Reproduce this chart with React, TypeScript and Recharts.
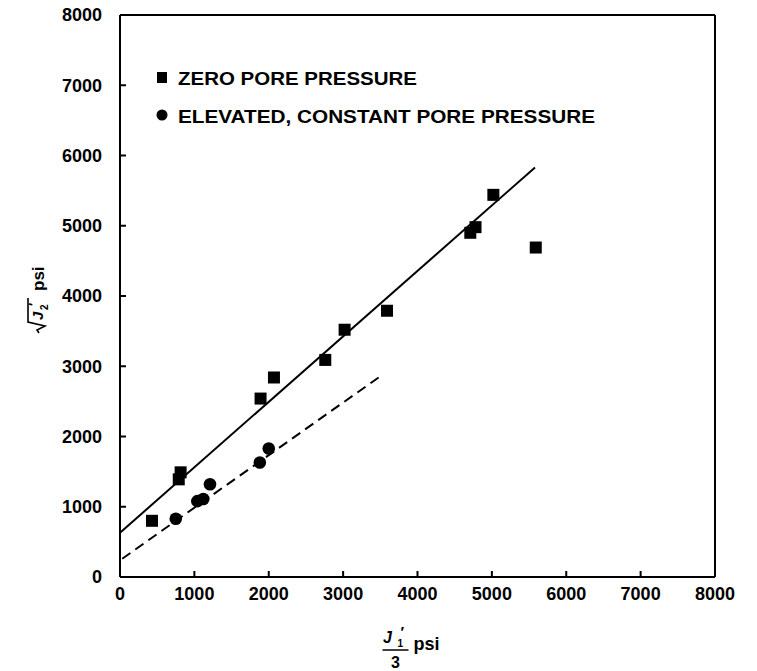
import React from 'react';
import { ScatterChart, Scatter, XAxis, YAxis, ReferenceLine, Legend } from 'recharts';

// Axis ticks (psi)
const xTicks = [0, 1000, 2000, 3000, 4000, 5000, 6000, 7000, 8000];
const yTicks = [0, 1000, 2000, 3000, 4000, 5000, 6000, 7000, 8000];

// Zero pore pressure tests: J1'/3 vs sqrt(J2')
const zeroPoreX = [430, 790, 815, 1890, 2070, 2760, 3020, 3590, 4710, 4780, 5020, 5590];
const zeroPoreY = [800, 1390, 1490, 2540, 2840, 3090, 3520, 3790, 4900, 4980, 5440, 4690];

// Elevated, constant pore pressure tests
const elevatedX = [750, 1040, 1120, 1210, 1880, 2000];
const elevatedY = [830, 1080, 1110, 1320, 1630, 1830];

// Fitted failure envelopes (end points)
const zeroFitX = [0, 5580];
const zeroFitY = [630, 5830];
const elevatedFitX = [30, 3530];
const elevatedFitY = [260, 2880];

const seriesNames = ['ZERO PORE PRESSURE', 'ELEVATED, CONSTANT PORE PRESSURE'];

const FONT = "'Liberation Sans', Arial, Helvetica, sans-serif";

const toPoints = (xs: number[], ys: number[]) => xs.map((x, i) => ({ x, y: ys[i] }));

const zeroPoreData = toPoints(zeroPoreX, zeroPoreY);
const elevatedData = toPoints(elevatedX, elevatedY);
const zeroFit = toPoints(zeroFitX, zeroFitY);
const elevatedFit = toPoints(elevatedFitX, elevatedFitY);

const SquareMarker = (props: any) => {
  const { cx, cy } = props;
  if (cx == null || cy == null) return <g />;
  return <rect x={cx - 6} y={cy - 6} width={12} height={12} fill="#000" />;
};

const CircleMarker = (props: any) => {
  const { cx, cy } = props;
  if (cx == null || cy == null) return <g />;
  return <circle cx={cx} cy={cy} r={6.3} fill="#000" />;
};

// Frame axes keep their tick marks but carry no labels
const NoLabel = () => <g />;

const XAxisTitle = (props: any) => {
  const vb = props.viewBox || { x: 120, y: 577, width: 594, height: 94 };
  const fx = vb.x + vb.width / 2 - 22;
  const top = vb.y;
  return (
    <g fill="#000" fontFamily={FONT} fontWeight="bold">
      <text x={fx - 8} y={top + 66} fontSize={16} fontStyle="italic" textAnchor="middle">J</text>
      <text x={fx + 2} y={top + 70} fontSize={10}>1</text>
      <text x={fx + 5} y={top + 60} fontSize={15}>′</text>
      <line x1={fx - 13} x2={fx + 13} y1={top + 73} y2={top + 73} stroke="#000" strokeWidth={1.5} />
      <text x={fx} y={top + 91} fontSize={16} textAnchor="middle">3</text>
      <text x={fx + 18} y={top + 73} fontSize={18}>psi</text>
    </g>
  );
};

const YAxisTitle = (props: any) => {
  const vb = props.viewBox || { x: 0, y: 16, width: 120, height: 561 };
  const cy = vb.y + vb.height / 2 + 5;
  return (
    <g transform={`translate(40, ${cy}) rotate(-90)`} fill="#000" fontFamily={FONT} fontWeight="bold">
      <path d="M -32 -1 L -29 -3 L -25 5 L -21 -12 L 3 -12" fill="none" stroke="#000" strokeWidth={1.6} />
      <text x={-19} y={3} fontSize={15} fontStyle="italic">J</text>
      <text x={-9} y={8} fontSize={10}>2</text>
      <text x={-5} y={-2} fontSize={13}>′</text>
      <text x={10} y={4} fontSize={17}>psi</text>
    </g>
  );
};

const LegendBox = () => (
  <svg width={460} height={80} style={{ display: 'block' }}>
    <g fill="#000" fontFamily={FONT} fontWeight="bold" fontSize={18}>
      <rect x={7} y={12} width={10} height={11} fill="#000" />
      <text x={28} y={25} textLength={239} lengthAdjust="spacingAndGlyphs">{seriesNames[0]}</text>
      <circle cx={12} cy={55} r={5.5} fill="#000" />
      <text x={28} y={63} textLength={417} lengthAdjust="spacingAndGlyphs">{seriesNames[1]}</text>
    </g>
  </svg>
);

const axisStroke = { stroke: '#000', strokeWidth: 2 };
const tickStyle = { fill: '#000', fontSize: 18, fontWeight: 'bold', fontFamily: FONT };

export default function App() {
  return (
    <div style={{ position: 'absolute', left: 0, top: 0, width: 757, height: 671, background: '#fff' }}>
      <ScatterChart width={757} height={671} margin={{ top: 15, right: 42, bottom: 0, left: 0 }}>
        <XAxis
          xAxisId="b"
          type="number"
          dataKey="x"
          domain={[0, 8000]}
          ticks={xTicks}
          interval={0}
          allowDataOverflow
          height={94}
          tickSize={-6}
          tickMargin={16}
          axisLine={axisStroke}
          tickLine={axisStroke}
          tick={tickStyle}
          label={<XAxisTitle />}
        />
        <XAxis
          xAxisId="t"
          orientation="top"
          type="number"
          domain={[0, 8000]}
          ticks={xTicks}
          interval={0}
          height={1}
          mirror
          tickSize={6}
          axisLine={axisStroke}
          tickLine={axisStroke}
          tick={<NoLabel />}
        />
        <YAxis
          yAxisId="l"
          type="number"
          dataKey="y"
          domain={[0, 8000]}
          ticks={yTicks}
          interval={0}
          allowDataOverflow
          width={120}
          tickSize={-6}
          tickMargin={24}
          axisLine={axisStroke}
          tickLine={axisStroke}
          tick={tickStyle}
          label={<YAxisTitle />}
        />
        <YAxis
          yAxisId="r"
          orientation="right"
          type="number"
          domain={[0, 8000]}
          ticks={yTicks}
          interval={0}
          width={1}
          mirror
          tickSize={6}
          axisLine={axisStroke}
          tickLine={axisStroke}
          tick={<NoLabel />}
        />
        <Legend
          layout="vertical"
          align="center"
          verticalAlign="middle"
          content={<LegendBox />}
          wrapperStyle={{ left: 150, top: 60, width: 460, height: 80 }}
        />
        <ReferenceLine
          xAxisId="b"
          yAxisId="l"
          segment={zeroFit}
          stroke="#000"
          strokeWidth={2}
        />
        <ReferenceLine
          xAxisId="b"
          yAxisId="l"
          segment={elevatedFit}
          stroke="#000"
          strokeWidth={2}
          strokeDasharray="10 6"
        />
        <Scatter
          name={seriesNames[0]}
          xAxisId="b"
          yAxisId="l"
          data={zeroPoreData}
          shape={<SquareMarker />}
          isAnimationActive={false}
        />
        <Scatter
          name={seriesNames[1]}
          xAxisId="b"
          yAxisId="l"
          data={elevatedData}
          shape={<CircleMarker />}
          isAnimationActive={false}
        />
      </ScatterChart>
    </div>
  );
}
